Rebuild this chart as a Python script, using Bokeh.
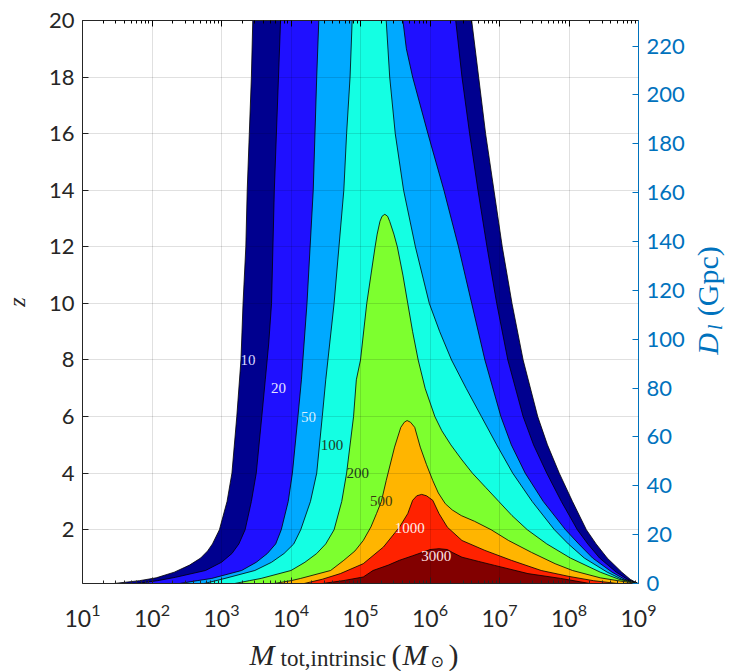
import numpy as np
from bokeh.plotting import figure
from bokeh.layouts import column, row
from bokeh.models import (LinearAxis, LogAxis, Range1d, FixedTicker,
                          ColumnDataSource, CustomJSTickFormatter)
from bokeh.core.properties import value
from bokeh.embed import file_html
from bokeh.resources import INLINE

# ---------------- data ----------------
levels = [10, 20, 50, 100, 200, 500, 1000, 3000]
band_colors = ["#00008f", "#1f10ff", "#00a9ff", "#14ffe3",
               "#7dff2f", "#ffb500", "#ff2200", "#820000"]

# contour boundaries: log10(M_tot) and z, traced from bottom-left, over the top, to bottom-right
snr10_logM = [1.35, 1.45, 1.82, 2.06, 2.32, 2.54, 2.70, 2.80, 2.87, 2.97, 3.08, 3.15, 3.22, 3.28, 3.31, 3.35, 3.37, 3.40, 3.43, 3.45,
              6.60, 6.70, 6.80, 6.92, 7.04, 7.18, 7.34, 7.55, 7.69, 7.86, 8.05, 8.25, 8.39, 8.55, 8.76, 8.88, 8.99, 9.00]
snr10_z = [0.0, 0.1, 0.2, 0.3, 0.5, 0.75, 1.0, 1.25, 1.5, 2.0, 3.0, 4.0, 6.0, 8.0, 10, 12, 14, 16, 18, 20,
           20, 18, 16, 14, 12, 10, 8, 6.0, 5.0, 4.0, 3.0, 2.0, 1.5, 1.0, 0.5, 0.25, 0.1, 0.0]

snr20_logM = [1.75, 1.78, 2.08, 2.34, 2.77, 3.00, 3.15, 3.25, 3.34, 3.43, 3.50, 3.58, 3.63, 3.68, 3.72, 3.76, 3.82, 3.85,
              6.37, 6.46, 6.57, 6.69, 6.82, 6.96, 7.12, 7.34, 7.49, 7.68, 7.89, 8.12, 8.27, 8.44, 8.68, 8.84, 8.99, 9.00]
snr20_z = [0.0, 0.1, 0.2, 0.32, 0.56, 0.85, 1.16, 1.5, 2.0, 3.0, 4.0, 6.0, 7.3, 8.6, 10, 14, 18, 20,
           20, 18, 16, 14, 12, 10, 8, 6.0, 5.0, 4.0, 3.0, 2.0, 1.5, 1.0, 0.5, 0.25, 0.1, 0.0]

snr50_logM = [2.35, 2.40, 2.65, 2.86, 3.29, 3.50, 3.66, 3.78, 3.86, 3.96, 4.02, 4.10, 4.15, 4.23, 4.32, 4.37, 4.40,
              5.61, 5.66, 5.75, 5.97, 6.20, 6.41, 6.60, 6.79, 7.02, 7.17, 7.37, 7.63, 7.95, 8.14, 8.34, 8.62, 8.80, 8.99, 9.00]
snr50_z = [0.0, 0.1, 0.2, 0.28, 0.56, 0.85, 1.16, 1.5, 2.0, 3.0, 4.0, 6.0, 7.3, 10, 14, 18, 20,
           20, 19, 18, 16, 14, 12, 10, 8, 6.0, 5.0, 4.0, 3.0, 2.0, 1.5, 1.0, 0.5, 0.25, 0.1, 0.0]

snr100_logM = [2.70, 2.75, 2.92, 3.05, 3.48, 3.72, 3.90, 4.04, 4.14, 4.28, 4.37, 4.45, 4.50, 4.62, 4.69, 4.76, 4.80, 4.85, 4.88,
               5.37, 5.42, 5.50, 5.62, 5.79, 5.99, 6.14, 6.31, 6.52, 6.74, 6.96, 7.19, 7.47, 7.79, 7.99, 8.22, 8.55, 8.76, 8.99, 9.00]
snr100_z = [0.0, 0.1, 0.2, 0.28, 0.56, 0.85, 1.16, 1.5, 2.0, 3.0, 4.0, 6.0, 7.3, 10, 12, 14, 16, 18, 20,
            20, 18, 16, 14, 12, 10, 9, 8, 7, 6, 5, 4, 3, 2, 1.5, 1.0, 0.5, 0.25, 0.1, 0.0]

snr200_logM = [3.15, 3.19, 3.40, 3.57, 4.00, 4.20, 4.37, 4.50, 4.62, 4.73, 4.80, 4.90, 4.94, 5.00, 5.09, 5.21, 5.24, 5.28, 5.31, 5.35,
               5.39, 5.42, 5.48, 5.53, 5.61, 5.68, 5.75, 5.83, 5.93, 6.07, 6.17, 6.30, 6.45, 6.61, 6.80, 6.99, 7.18, 7.40,
               7.68, 8.02, 8.45, 8.72, 8.99, 9.00]
snr200_z = [0.0, 0.1, 0.2, 0.28, 0.56, 0.85, 1.16, 1.5, 2.0, 3.0, 4.0, 6.0, 7.3, 8.0, 10, 12, 12.45, 12.9, 13.08, 13.15,
            13.08, 12.9, 12.45, 12.0, 11, 10, 9, 8, 7, 6, 5.5, 5.0, 4.5, 4.0, 3.5, 3.0, 2.5, 2.0,
            1.5, 1.0, 0.5, 0.25, 0.1, 0.0]

snr500_logM = [3.70, 3.76, 4.00, 4.14, 4.57, 4.76, 4.92, 5.04, 5.15, 5.23, 5.30, 5.37, 5.49, 5.58, 5.63, 5.67,
               5.72, 5.78, 5.86, 5.95, 6.04, 6.12, 6.22, 6.32, 6.45, 6.64, 6.88, 7.13, 7.46, 7.80, 8.05, 8.45, 8.70, 8.99, 9.00]
snr500_z = [0.0, 0.1, 0.2, 0.28, 0.56, 0.92, 1.25, 1.62, 2.1, 2.57, 3.0, 3.74, 4.92, 5.62, 5.8, 5.86,
            5.8, 5.62, 4.92, 4.3, 3.74, 3.3, 2.92, 2.7, 2.5, 2.3, 2.0, 1.62, 1.2, 0.8, 0.56, 0.3, 0.2, 0.1, 0.0]

snr1000_logM = [4.10, 4.19, 4.45, 4.71, 5.04, 5.33, 5.56, 5.68, 5.75, 5.81, 5.88,
                5.95, 6.04, 6.13, 6.25, 6.46, 6.79, 7.17, 7.60, 8.00, 8.35, 8.70, 8.75]
snr1000_z = [0.0, 0.1, 0.25, 0.45, 0.8, 1.39, 2.09, 2.57, 3.04, 3.2, 3.25,
             3.2, 3.04, 2.57, 2.09, 1.62, 1.27, 0.92, 0.56, 0.35, 0.2, 0.1, 0.0]

snr3000_logM = [4.40, 4.45, 4.75, 5.04, 5.18, 5.40, 5.56, 5.75, 5.89, 6.00, 6.13,
                6.25, 6.32, 6.46, 6.70, 6.93, 7.41, 7.88, 8.30, 8.35]
snr3000_z = [0.0, 0.1, 0.2, 0.33, 0.56, 0.75, 0.92, 1.08, 1.2, 1.3, 1.33,
             1.3, 1.2, 1.03, 0.88, 0.74, 0.45, 0.28, 0.1, 0.0]

label_text = ["10", "20", "50", "100", "200", "500", "1000", "3000"]
label_logM = [3.38, 3.82, 4.25, 4.59, 4.96, 5.30, 5.71, 6.09]
label_z = [8.0, 7.0, 6.0, 5.0, 4.0, 3.0, 2.05, 1.06]
label_colors = ["#dcdcff", "#e4e4ff", "#d6f0ff", "#1e3a1e", "#1e3a1e", "#3a3a10", "#fff0f0", "#ffe6e6"]

mass_ticks = [1e1, 1e2, 1e3, 1e4, 1e5, 1e6, 1e7, 1e8, 1e9]
mass_minor = [k * 10.0 ** e for e in range(1, 9) for k in range(2, 10)]
z_ticks = [2, 4, 6, 8, 10, 12, 14, 16, 18, 20]
dl_ticks = [0, 20, 40, 60, 80, 100, 120, 140, 160, 180, 200, 220]
mass_range = (1e1, 1e9)
z_range = (0.1, 20)
dl_range = (0, 230.5)

# ---------------- figure ----------------
BLUE = "#0072bd"
DARK = "#262626"
TICKFONT = "Lato"
SERIF = "Liberation Serif"

MAIN_W, MAIN_H = 690, 637
p = figure(width=MAIN_W, height=MAIN_H, x_axis_type="log",
           x_range=Range1d(*mass_range), y_range=Range1d(*z_range),
           output_backend="svg", toolbar_location=None,
           min_border_left=76, min_border_right=52, min_border_top=20, min_border_bottom=54)
p.outline_line_color = None

contours_logM = [snr10_logM, snr20_logM, snr50_logM, snr100_logM, snr200_logM, snr500_logM, snr1000_logM, snr3000_logM]
contours_z = [snr10_z, snr20_z, snr50_z, snr100_z, snr200_z, snr500_z, snr1000_z, snr3000_z]
src = ColumnDataSource(dict(
    xs=[list(10.0 ** np.array(lm)) for lm in contours_logM],
    ys=contours_z,
    color=band_colors,
    level=levels,
))
p.patches("xs", "ys", source=src, fill_color="color", line_color="black", line_width=0.8)

lab_src = ColumnDataSource(dict(x=list(10.0 ** np.array(label_logM)), y=label_z,
                                text=label_text, color=label_colors))
p.text("x", "y", text="text", source=lab_src, text_color="color",
       text_font=value(SERIF), text_font_size="15px", text_align="center", text_baseline="middle")

for g in (p.xgrid, p.ygrid):
    g.grid_line_color = "black"
    g.grid_line_alpha = 0.12
    g.level = "annotation"

xa = p.xaxis[0]
xa.ticker = FixedTicker(ticks=mass_ticks, minor_ticks=mass_minor)
xa.major_label_text_font = TICKFONT
xa.major_label_text_font_size = "23px"
xa.major_label_text_color = DARK
xa.major_label_standoff = 20
xa.axis_line_color = DARK
xa.major_tick_in = 6
xa.major_tick_out = 0
xa.minor_tick_in = 3
xa.minor_tick_out = 0
xa.major_tick_line_color = DARK
xa.minor_tick_line_color = DARK

top = LogAxis(ticker=FixedTicker(ticks=mass_ticks, minor_ticks=mass_minor),
              formatter=CustomJSTickFormatter(code="return ''"))
top.axis_line_color = DARK
top.major_tick_in = 6
top.major_tick_out = 0
top.minor_tick_in = 3
top.minor_tick_out = 0
top.major_label_standoff = 0
p.add_layout(top, "above")

ya = p.yaxis[0]
ya.ticker = FixedTicker(ticks=z_ticks)
ya.major_label_text_font = TICKFONT
ya.major_label_text_font_size = "22px"
ya.major_label_text_color = DARK
ya.major_label_standoff = 8
ya.axis_line_color = DARK
ya.major_tick_in = 6
ya.major_tick_out = 0
ya.minor_tick_line_color = None
ya.major_tick_line_color = DARK
ya.axis_label = "z"
ya.axis_label_text_font = SERIF
ya.axis_label_text_font_style = "italic"
ya.axis_label_text_font_size = "24px"
ya.axis_label_text_color = DARK
ya.axis_label_standoff = 16

p.extra_y_ranges = {"dl": Range1d(*dl_range)}
ra = LinearAxis(y_range_name="dl", ticker=FixedTicker(ticks=dl_ticks))
ra.axis_line_color = BLUE
ra.major_tick_line_color = BLUE
ra.major_tick_in = 6
ra.major_tick_out = 0
ra.minor_tick_line_color = None
ra.major_label_text_color = BLUE
ra.major_label_text_font = TICKFONT
ra.major_label_text_font_size = "22px"
ra.major_label_standoff = 8
p.add_layout(ra, "right")


def text_panel(w, h):
    f = figure(width=w, height=h, x_range=Range1d(0, w), y_range=Range1d(0, h),
               x_axis_location=None, y_axis_location=None,
               output_backend="svg", toolbar_location=None, min_border=0)
    f.grid.visible = False
    f.outline_line_color = None
    return f


def put(f, h, txt, x, y, size, style="normal", color=DARK, angle=0.0, font=SERIF, align="left"):
    # x, y in pixels from the panel's top-left corner (y = middle of the text line)
    f.text(x=[x], y=[h - y], text=[txt], text_font=value(font), text_font_size=size,
           text_font_style=style, text_color=color, angle=angle,
           text_align=align, text_baseline="middle")


# right-hand axis title panel (window x 690..730, y 0..637), text centred on each piece
RW = 730 - MAIN_W
rp = text_panel(RW, MAIN_H)
put(rp, MAIN_H, "D", 17, 366, "30px", "italic", BLUE, np.pi / 2, align="center")
put(rp, MAIN_H, "l", 24, 347, "20px", "italic", BLUE, np.pi / 2, align="center")
put(rp, MAIN_H, "(Gpc)", 17, 295, "30px", "normal", BLUE, np.pi / 2, align="center")

# bottom axis title panel (window y 637..671)
BH = 671 - MAIN_H
bp = text_panel(730, BH)
put(bp, BH, "M", 249, 17, "30px", "italic")
put(bp, BH, "tot,intrinsic", 280, 21, "23px")
put(bp, BH, "(", 391, 17, "30px")
put(bp, BH, "M", 402, 17, "30px", "italic")
put(bp, BH, "\u2299", 430, 24, "16px", font="DejaVu Sans")
put(bp, BH, ")", 448, 17, "30px")

layout = column(row(p, rp, spacing=0), bp, spacing=0)
open("out.html", "w").write(file_html(layout, INLINE))
